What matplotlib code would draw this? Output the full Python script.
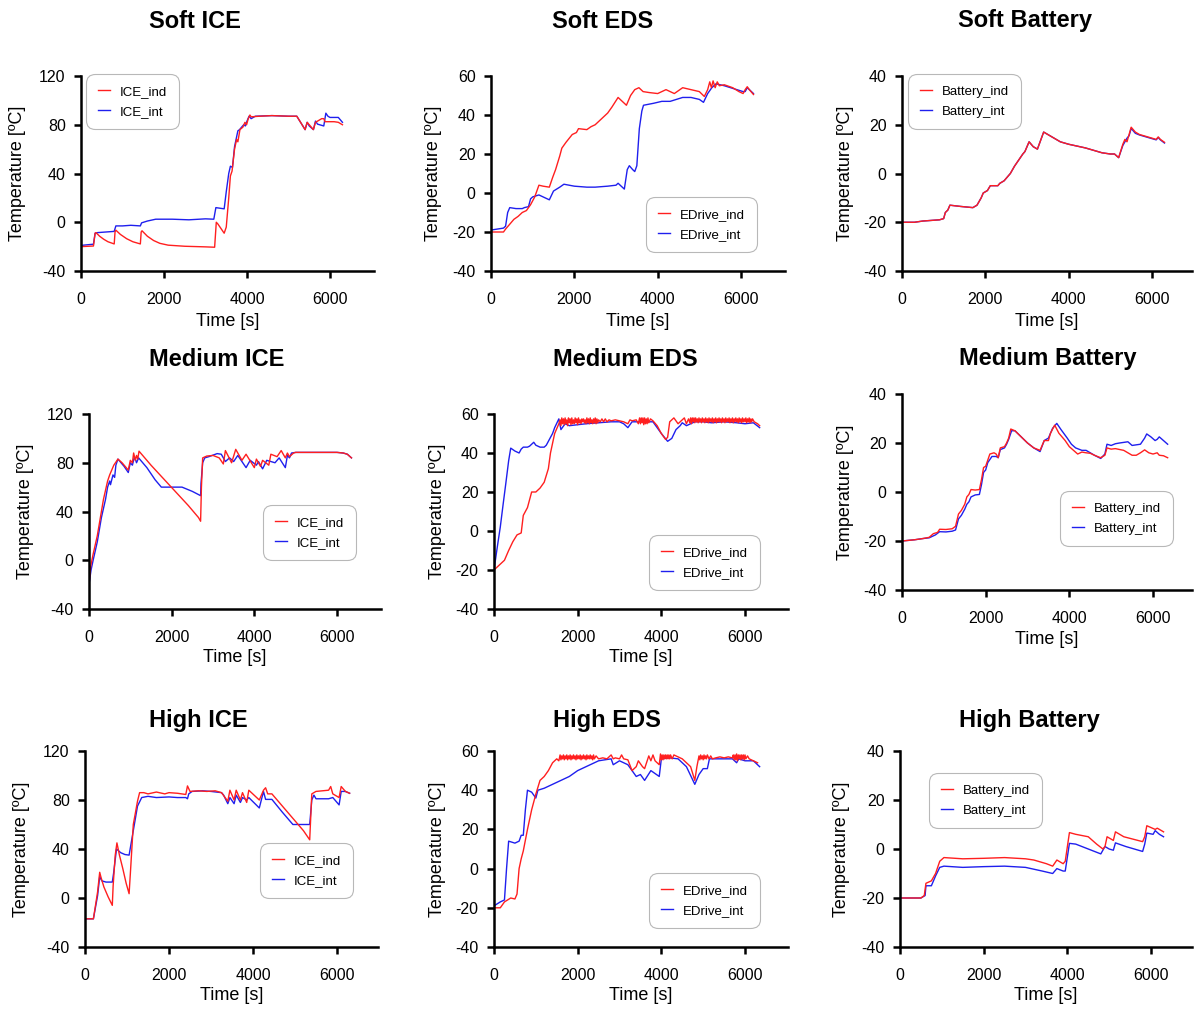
import matplotlib
matplotlib.use("Agg")
import matplotlib.pyplot as plt

plt.rcParams['font.family'] = ['Liberation Sans', 'DejaVu Sans']
plt.rcParams['axes.unicode_minus'] = False

RED = '#ff1f1f'
BLUE = '#1f1fee'

# ---- data, (time [s], temperature [C]) ----
soft_ice_ind = [(0,-20),(300,-19.5),(340,-9),(360,-8.5),(450,-11.5),(550,-14),(650,-16),(800,-17.8),(820,-8),
                (840,-6.5),(950,-10),(1100,-13.5),(1250,-16),(1430,-17.8),(1450,-8),(1470,-7),(1600,-11.5),
                (1750,-15),(1900,-17.3),(2100,-18.8),(2500,-19.7),(3000,-20.2),(3220,-20.5),(3260,0),(3300,-1.5),
                (3450,-9),(3500,-4),(3560,20),(3600,38),(3640,42),(3700,60),(3750,68),(3780,66),(3830,76),(3900,78),
                (3950,82),(3990,80),(4030,85),(4070,88),(4100,86.5),(4300,87),(4600,87.5),(5000,87),(5200,87),
                (5400,76),(5450,82),(5500,80),(5600,76),(5650,82),(5700,83),(5750,84),(5800,85),(5850,85),(5880,82.5),
                (6100,82.5),(6200,82),(6300,80)]
soft_ice_int = [(0,-19),(300,-18),(340,-9),(400,-8.5),(600,-8),(800,-7.5),(840,-3),(1000,-3),(1200,-2.5),(1430,-3),
                (1460,-0.5),(1600,1),(1800,2.5),(2200,2.5),(2600,2),(3000,2.8),(3200,2.5),(3250,12),(3350,11.5),
                (3450,11),(3500,25),(3560,40),(3600,46),(3650,45),(3700,62),(3780,75),(3820,76),(3870,78),(3920,80),
                (3960,79),(4000,83),(4050,87),(4100,85),(4200,87),(4600,87.5),(5000,87),(5200,87),(5400,76),(5450,82),
                (5500,79),(5600,76),(5650,83),(5700,80.5),(5750,80),(5850,79),(5900,89.5),(5950,87),(6000,86),
                (6200,86),(6300,82)]

soft_eds_ind = [(0,-20),(300,-20),(350,-18.5),(450,-16),(550,-13.5),(650,-12),(750,-10),(850,-9),(950,-6),(1050,-2),
                (1150,4),(1250,3.5),(1400,3),(1480,8),(1550,12),(1650,19),(1700,23),(1800,26),(1950,30),(2050,31),
                (2100,33),(2300,32.5),(2400,34),(2500,35),(2650,38),(2800,41),(2900,44),(3050,49),(3150,47),(3250,45),
                (3350,50),(3450,53),(3550,54),(3650,52),(3800,51.5),(4000,51),(4200,53),(4400,51),(4600,54),(4800,53),
                (5000,52),(5120,49.5),(5200,53),(5250,57),(5290,54),(5330,57.5),(5380,54),(5430,57),(5480,55),
                (5600,55.5),(5800,54),(5950,52),(6050,51),(6100,53),(6150,54.5),(6200,53),(6300,50.5)]
soft_eds_int = [(0,-19),(300,-18),(350,-17),(400,-10),(450,-7.5),(600,-8),(750,-8),(800,-7.5),(900,-7),(950,-3),
                (1000,-2),(1150,-1),(1300,-2.5),(1400,-3.5),(1500,1),(1650,3),(1750,4.5),(2000,3.5),(2300,3),(2500,3),
                (2800,3.5),(3000,4),(3050,5),(3200,2),(3270,12),(3320,14),(3400,12),(3450,11),(3500,14),(3560,33),
                (3620,42),(3660,45),(3900,46),(4100,47),(4300,47),(4600,49),(4800,49),(5000,48),(5100,46.5),(5200,51),
                (5300,54),(5400,56),(5600,55),(5900,53),(6050,52),(6100,52),(6150,54),(6300,51)]

soft_bat_ind = [(0,-20),(300,-20),(500,-19.5),(900,-19),(1000,-18.5),(1040,-16),(1100,-15),(1150,-13),(1400,-13.5),
                (1700,-14),(1800,-13),(1900,-10),(1950,-8),(2050,-7),(2120,-5),(2300,-5),(2350,-4),(2450,-3),(2550,-1),
                (2600,0),(2700,3),(2800,5.5),(2900,8),(2950,9),(3050,13),(3150,11),(3250,10),(3400,17),(3600,15),
                (3800,13),(4000,12),(4400,10.5),(4500,10),(4700,9),(4800,8.5),(5000,8),(5100,8),(5200,6.5),(5300,12),
                (5350,14),(5400,13),(5450,16),(5500,19),(5600,17),(5700,16),(5900,15),(6100,14),(6150,15),(6200,14),
                (6300,12.8)]
soft_bat_int = [(0,-20),(300,-20),(500,-19.5),(900,-19),(1000,-18.5),(1040,-16),(1100,-15),(1150,-13),(1400,-13.5),
                (1700,-14),(1800,-13),(1900,-10),(1950,-8),(2050,-7),(2120,-5),(2300,-5),(2350,-4),(2450,-3),(2550,-1),
                (2600,0),(2700,3),(2800,5.5),(2900,8),(2950,9),(3050,13),(3150,11),(3250,10),(3400,17),(3600,15),
                (3800,13),(4000,12),(4400,10.5),(4500,10),(4700,9),(4800,8.5),(5000,8),(5100,8),(5200,6.5),(5300,11.5),
                (5350,13),(5400,14.5),(5450,15.5),(5500,18.5),(5600,16.5),(5700,15.8),(5900,14.8),(6100,13.8),
                (6150,14.8),(6200,13.8),(6300,12.5)]

med_ice_ind = [(0,-20),(40,-5),(100,5),(200,20),(300,40),(350,50),(450,65),(500,70),(550,74),(600,78),(700,83),
               (800,80),(950,74),(1000,82),(1050,80),(1080,88),(1120,82),(1150,86),(1180,83),(1210,89.5),(1500,78),
               (1800,67),(2100,56),(2400,45),(2650,35),(2700,32),(2720,60),(2750,84),(2850,85.5),(3000,86),(3150,84),
               (3250,79),(3300,90),(3450,80),(3550,91),(3700,82),(3800,87),(4000,76),(4050,83),(4150,77),(4200,82),
               (4350,78),(4400,87),(4550,85),(4650,90),(4750,84),(4800,88),(4850,85),(4950,88),(5000,88.5),
               (5500,88.5),(6000,88.5),(6150,88),(6250,87),(6350,84)]
med_ice_int = [(0,-20),(50,-8),(100,0),(200,15),(300,35),(400,50),(450,60),(500,65),(520,62),(580,70),(620,68),
               (650,78),(700,83),(850,77),(950,72),(1000,80),(1050,78),(1100,85),(1150,80),(1200,84),(1400,76),
               (1600,66),(1750,60),(2000,60),(2250,60),(2500,56.5),(2700,53),(2710,63),(2750,80),(2800,84),(2900,85),
               (3100,87.5),(3200,87),(3300,81),(3400,84),(3500,81),(3600,86),(3800,76),(3900,82),(4050,78),(4100,81),
               (4200,75),(4300,82),(4500,80),(4600,84),(4750,76),(4800,86),(4850,84),(4900,88),(5000,88.5),
               (5500,88.5),(6000,88.5),(6150,88),(6250,87),(6350,84)]

med_eds_ind = [(0,-20),(100,-18),(250,-15),(350,-10),(450,-5.5),(550,-2),(650,-1),(700,8),(800,12),(900,20),
               (1000,20),(1100,22),(1200,25),(1300,32),(1350,40),(1450,50),(1550,55),(1580,57),(1600,54),(1620,58),
               (1640,55),(1660,57.5),(1680,54.5),(1700,58),(1720,55),(1740,57),(1760,54),(1780,58),(1800,55.5),
               (1820,57.5),(1840,54.5),(1860,58),(1880,55),(1900,57),(1920,55),(1940,58),(1960,55.5),(1980,57.5),
               (2000,54.5),(2020,58),(2040,55.5),(2060,57),(2080,55),(2100,57.5),(2120,56),(2140,57.5),(2160,55.5),
               (2180,57),(2200,55),(2220,58),(2240,55.5),(2260,57.5),(2280,55),(2300,58),(2320,55.5),(2340,57),
               (2360,55),(2380,57.5),(2400,55.5),(2420,58),(2440,55),(2460,57.5),(2480,55.5),(2500,57),(2540,56),
               (2580,57.5),(2620,56),(2660,57.5),(2700,56),(2750,57),(2800,56.5),(2900,57),(3000,56.5),(3100,56),
               (3200,55),(3250,57),(3300,56.5),(3400,57),(3450,55),(3480,58),(3500,55),(3520,58),(3540,55.5),
               (3560,58),(3580,54.5),(3600,58),(3620,55),(3640,57.5),(3660,55),(3680,58),(3700,55.5),(3740,57.5),
               (3800,56.5),(3900,54),(4000,50),(4100,47),(4150,48),(4200,56),(4250,57),(4300,58),(4400,55),(4500,57),
               (4550,58),(4600,55),(4650,57.5),(4680,55.5),(4700,58),(4720,55),(4740,58),(4760,56),(4780,58),
               (4800,55.5),(4820,58),(4840,56),(4860,57.5),(4880,55.5),(4900,58),(4920,56),(4940,57.5),(4960,55.5),
               (4980,58),(5000,56),(5020,57.5),(5040,55.5),(5060,58),(5080,56),(5100,57.5),(5120,55.5),(5140,58),
               (5160,56),(5180,57.5),(5200,56),(5220,58),(5240,55.5),(5260,57.5),(5280,56),(5300,58),(5320,55.5),
               (5340,57.5),(5360,56),(5380,58),(5400,56),(5420,57.5),(5440,55.5),(5460,58),(5480,56),(5500,57.5),
               (5520,55.5),(5540,58),(5560,56),(5580,57.5),(5600,56),(5620,58),(5640,55.5),(5660,57.5),(5680,56),
               (5700,58),(5720,55.5),(5740,57.5),(5760,56),(5780,58),(5800,56),(5820,57.5),(5840,55.5),(5860,58),
               (5880,56),(5900,57.5),(5920,55.5),(5940,58),(5960,56),(5980,57.5),(6000,56),(6020,58),(6040,55.5),
               (6060,57.5),(6080,56),(6100,58),(6120,55.5),(6140,57.5),(6160,56),(6180,57.5),(6220,56),(6300,55),
               (6350,54)]
med_eds_int = [(0,-20),(80,-8),(150,2),(220,14),(280,24),(350,36),(400,42.5),(500,41),(600,40),(650,42),(700,43),
               (800,43),(850,43.5),(950,45.5),(1000,44),(1100,43),(1200,43),(1250,44),(1300,46),(1400,50),(1450,53),
               (1550,57.5),(1600,52),(1700,55),(1800,54),(2000,54.5),(2200,55),(2500,55.5),(2800,56),(3000,56),
               (3100,55),(3200,53),(3300,56),(3500,56),(3800,56),(3900,53),(4000,50),(4150,46),(4250,47.5),(4350,52),
               (4450,54),(4500,55.5),(4600,54),(4700,55),(4800,56),(5000,56),(5200,55.5),(5500,56),(5800,55.5),
               (6000,55),(6200,55.5),(6350,53)]

med_bat_ind = [(0,-20),(300,-19.5),(500,-19),(650,-18.5),(750,-17),(850,-16.5),(900,-15.2),(1050,-15.3),(1200,-15),
               (1280,-14),(1350,-9),(1420,-7.5),(1500,-5),(1550,-2),(1600,-1),(1650,1),(1750,0.8),(1850,1),(1900,5),
               (1950,10),(2000,10.5),(2050,13),(2100,15.5),(2200,16),(2250,15.5),(2300,14),(2350,18),(2450,18.5),
               (2500,20),(2550,22),(2600,25.7),(2700,25),(2850,22.5),(3000,20),(3150,18),(3300,17),(3400,21),
               (3500,21),(3550,24),(3650,27.3),(3750,24),(3900,21),(4000,18.5),(4100,17),(4200,15.5),(4300,16.3),
               (4400,16),(4500,15.8),(4600,15),(4700,14.3),(4750,14),(4850,15),(4900,18),(5000,17.5),(5100,17.7),
               (5300,17),(5400,16),(5500,15),(5600,15),(5700,16),(5800,17.2),(5900,16),(6000,15.5),(6100,16),
               (6150,15),(6250,14.8),(6350,14)]
med_bat_int = [(0,-20),(300,-19.5),(500,-19),(650,-18.7),(800,-17.5),(900,-16.2),(1050,-16.3),(1200,-16),
               (1280,-15.5),(1350,-11),(1420,-9.5),(1500,-7),(1550,-5),(1600,-4),(1650,-2),(1750,-1.2),(1850,-1),
               (1900,3),(1950,8),(2000,9),(2050,12),(2150,14.5),(2250,14.5),(2300,14),(2350,17.3),(2450,18),
               (2500,19.5),(2550,21.5),(2620,25),(2700,25),(2850,22.5),(3000,20),(3150,18),(3300,16.5),(3400,21),
               (3500,22),(3600,26),(3700,28),(3800,25.5),(3950,22),(4050,19.5),(4150,18),(4300,17),(4400,17),
               (4500,16),(4600,15),(4750,13.7),(4850,15.5),(4900,19.5),(5000,19),(5100,19.7),(5200,20),(5400,20.5),
               (5500,19),(5700,19.5),(5800,22),(5850,23.7),(5950,22.5),(6050,21),(6100,21.5),(6150,22.5),(6250,21),
               (6350,19.5)]

high_ice_ind = [(0,-17),(200,-17),(300,5),(350,21),(380,17),(450,9),(550,1),(650,-6),(670,10),(720,35),(760,45),
                (820,35),(900,24),(980,12),(1050,3.5),(1080,20),(1150,60),(1250,79),(1300,86),(1400,86),(1500,85),
                (1700,86.5),(1900,85),(2000,86),(2200,85.5),(2400,84.5),(2440,91.5),(2500,87),(2700,87.5),(2900,87),
                (3100,87.5),(3250,86),(3400,79),(3450,88),(3550,80),(3600,88),(3700,80),(3750,86),(3850,78),(3900,88),
                (4150,80),(4250,88),(4300,90),(4350,85),(4450,85),(4700,75),(5000,63),(5200,55),(5350,47.5),(5400,85),
                (5500,87),(5800,88),(5850,91),(5900,85),(6050,82),(6100,91),(6200,87),(6300,85.5)]
high_ice_int = [(0,-17),(200,-17),(300,2),(350,17.5),(400,14),(500,13),(650,13),(680,20),(750,40),(850,37),
                (950,35.5),(1050,35),(1150,55),(1250,75),(1350,82),(1500,83),(1700,82),(2000,82.5),(2200,82),
                (2400,82),(2440,81),(2470,85),(2550,87),(2800,87.5),(3000,87),(3250,86),(3300,84),(3400,77),(3450,82),
                (3550,77),(3600,84),(3700,78),(3750,82),(3850,80),(3900,82),(4150,73.5),(4250,87),(4300,80.5),
                (4450,80.5),(4700,70),(4950,60),(5150,60),(5350,60),(5400,80),(5450,84),(5500,81),(5800,81),(5900,82),
                (6050,76),(6100,87),(6200,87),(6300,85.5)]

high_eds_ind = [(0,-20),(150,-20),(250,-17),(400,-15),(500,-15.5),(550,-13),(600,0),(650,5),(700,9),(800,20),
                (900,30),(1000,38),(1100,45),(1200,47),(1300,50),(1400,54),(1500,56),(1550,55),(1580,58),(1600,55.5),
                (1620,57.5),(1640,56),(1660,58),(1680,55.5),(1700,57.5),(1720,56),(1740,58),(1760,55.5),(1780,57.5),
                (1800,56),(1820,58),(1840,55.5),(1860,57.5),(1880,56),(1900,58),(1920,56),(1940,57.5),(1960,55.5),
                (1980,58),(2000,56),(2020,57.5),(2040,56),(2060,58),(2080,55.5),(2100,57.5),(2120,56),(2140,58),
                (2160,56),(2180,57.5),(2200,55.5),(2220,58),(2240,56),(2260,57.5),(2280,56),(2300,58),(2320,56),
                (2340,57.5),(2360,55.5),(2380,58),(2400,56),(2440,57.5),(2500,56),(2600,56.5),(2700,56),(2800,58),
                (2850,56),(2900,56.5),(3000,56),(3050,58),(3100,56),(3200,55.5),(3300,50),(3400,52),(3450,55),
                (3550,52),(3600,51),(3700,57.5),(3750,55),(3800,58),(3850,55),(3950,53),(3980,58.5),(4000,55.5),
                (4020,58),(4040,55.5),(4060,58),(4080,56),(4100,58),(4120,56),(4140,58),(4160,56),(4180,58),
                (4200,56),(4220,58),(4260,56),(4300,58),(4400,57),(4500,56),(4700,52),(4800,45),(4850,52),
                (4900,57.5),(4920,55.5),(4940,58),(4960,56),(4980,57.5),(5000,55.5),(5020,58),(5040,56),(5060,57.5),
                (5080,56),(5100,58),(5140,56),(5180,57.5),(5220,56),(5300,56.5),(5400,57),(5500,56.5),(5600,57),
                (5700,56.5),(5720,58),(5740,55.5),(5760,58),(5780,55.5),(5800,58.5),(5820,55),(5840,58),(5860,56),
                (5880,58),(5900,55.5),(5920,58),(5940,56),(5960,58),(5980,55.5),(6000,58),(6020,56),(6060,57.5),
                (6100,56),(6200,55),(6300,54)]
high_eds_int = [(0,-19),(150,-17),(250,-16),(300,0),(350,14),(500,13),(600,14),(650,17),(700,17),(750,30),(800,40),
                (900,39),(1000,36),(1050,40),(1200,41),(1400,43),(1600,45),(1800,47),(2000,50),(2200,52),(2500,55),
                (2800,56),(2850,53),(3000,55),(3200,53),(3400,47),(3500,48),(3600,45),(3750,50),(3950,47),(4000,56),
                (4200,56.5),(4400,56),(4600,52),(4800,43),(4900,48),(5000,51),(5100,51),(5150,56),(5400,56),(5700,56),
                (5800,54),(5850,56),(6000,55),(6200,55),(6350,52)]

high_bat_ind = [(0,-20),(500,-20),(580,-19),(620,-14),(750,-13),(850,-10),(950,-5),(1050,-3.5),(1500,-4),
                (2000,-3.8),(2500,-3.5),(3000,-4),(3200,-4.5),(3500,-6),(3650,-7),(3750,-4.5),(3900,-6),(3950,-5),
                (4050,6.7),(4200,6),(4500,5),(4700,2),(4850,0),(4900,1),(4950,5),(5050,4),(5100,3.5),(5150,7),
                (5350,5),(5800,3),(5850,5),(5900,9.5),(6100,8),(6150,8.5),(6300,7)]
high_bat_int = [(0,-20),(500,-20),(600,-19),(620,-15),(750,-15),(850,-11),(950,-7.5),(1050,-7),(1500,-7.5),
                (2000,-7.2),(2500,-7),(3000,-7.5),(3400,-9),(3650,-10),(3750,-8),(3900,-9),(3950,-9),(4050,2.3),
                (4200,2),(4500,0),(4800,-2),(4900,1),(5000,0),(5100,-0.5),(5150,2.5),(5400,1),(5800,-1),(5850,2),
                (5900,6.5),(6050,6),(6100,7.5),(6200,6),(6300,5)]

titles = ['Soft ICE', 'Soft EDS', 'Soft Battery',
          'Medium ICE', 'Medium EDS', 'Medium Battery',
          'High ICE', 'High EDS', 'High Battery']
series = [(soft_ice_ind, soft_ice_int), (soft_eds_ind, soft_eds_int), (soft_bat_ind, soft_bat_int),
          (med_ice_ind, med_ice_int), (med_eds_ind, med_eds_int), (med_bat_ind, med_bat_int),
          (high_ice_ind, high_ice_int), (high_eds_ind, high_eds_int), (high_bat_ind, high_bat_int)]
prefixes = ['ICE', 'EDrive', 'Battery'] * 3
yticks_by_kind = {'ICE': [-40, 0, 40, 80, 120], 'EDrive': [-40, -20, 0, 20, 40, 60],
                  'Battery': [-40, -20, 0, 20, 40]}
xticks = [0, 2000, 4000, 6000]

# ---- layout in pixels ----
W, H = 1194, 1009
# left, right, top, bottom, x-pixel of 6000
boxes = [(81, 374, 76, 271, 330), (491, 785, 76, 271, 741), (902, 1192, 76, 271, 1152),
         (89, 381, 414, 609, 337), (494, 788, 414, 609, 745), (902, 1192, 394, 590, 1153),
         (85, 378, 751, 947, 337), (494, 788, 751, 947, 745), (900, 1192, 751, 947, 1151)]
title_pos = [(195, 21), (603, 21), (1025, 21), (217, 359), (625, 359), (1048, 359),
             (198, 720), (607, 720), (1029, 720)]
ylabel_x = [18, 433, 845, 26, 437, 845, 22, 437, 842]
xlabel_y = [321, 321, 321, 658, 658, 639, 996, 996, 996]
legend_pos = [(86, 74), (646, 197), (908, 74), (263, 505), (649, 535), (1060, 491),
              (260, 843), (649, 873), (929, 773)]

fig = plt.figure(figsize=(W / 100, H / 100), dpi=100)

for i in range(9):
    l, r, t, b, x6 = boxes[i]
    ax = fig.add_axes([l / W, 1 - b / H, (r - l) / W, (b - t) / H])
    ind, intr = series[i]
    name = prefixes[i]
    h_int, = ax.plot([p[0] for p in intr], [p[1] for p in intr], color=BLUE, lw=1.0, label=name + '_int')
    h_ind, = ax.plot([p[0] for p in ind], [p[1] for p in ind], color=RED, lw=1.0, label=name + '_ind')

    yt = yticks_by_kind[name]
    ax.set_ylim(yt[0], yt[-1])
    ax.set_yticks(yt)
    ax.set_xlim(0, (r - l) / (x6 - l) * 6000)
    ax.set_xticks(xticks)
    for s in ['top', 'right']:
        ax.spines[s].set_visible(False)
    for s in ['left', 'bottom']:
        ax.spines[s].set_linewidth(1.8)
    ax.tick_params(direction='out', length=5, width=1.8, labelsize=11.5)
    ax.tick_params(axis='x', pad=10)
    ax.tick_params(axis='y', pad=6)

    ax.set_xlabel('Time [s]', fontsize=13, va='center')
    ax.xaxis.set_label_coords(0.5, (b - xlabel_y[i]) / (b - t))
    ax.set_ylabel('Temperature [ºC]', fontsize=13, va='center')
    ax.yaxis.set_label_coords((ylabel_x[i] - l) / (r - l), 0.5)

    lx, ly = legend_pos[i]
    leg = ax.legend([h_ind, h_int], [name + '_ind', name + '_int'], loc='upper left',
                    bbox_to_anchor=(lx / W, 1 - ly / H), bbox_transform=fig.transFigure,
                    borderaxespad=0, fontsize=9.5, handlelength=0.9, handletextpad=0.75,
                    labelspacing=0.55, borderpad=0.9, fancybox=True, framealpha=1)
    frame = leg.get_frame()
    frame.set_edgecolor('#b8b8b8')
    frame.set_linewidth(0.8)
    frame.set_boxstyle('round', pad=0, rounding_size=0.7)

    tx, ty = title_pos[i]
    fig.text(tx / W, 1 - ty / H, titles[i], ha='center', va='center', fontsize=17, fontweight='bold')

fig.savefig('out.png', dpi=100)
